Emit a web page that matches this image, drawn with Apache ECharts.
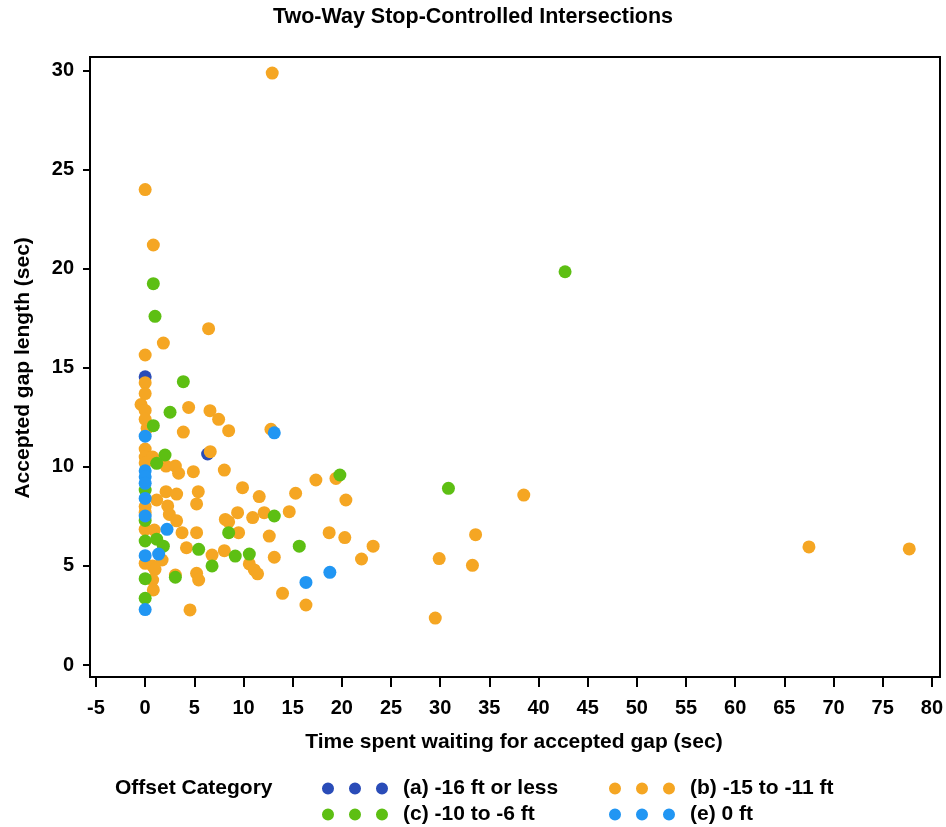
<!DOCTYPE html>
<html>
<head>
<meta charset="utf-8">
<script src="https://cdn.jsdelivr.net/npm/echarts@6/dist/echarts.min.js"></script>
<style>html,body{margin:0;padding:0;background:#fff}#c{width:946px;height:827px}</style>
</head>
<body>
<div id="c"></div>
<script>
const chartTitle = 'Two-Way Stop-Controlled Intersections';
const xTitle = 'Time spent waiting for accepted gap (sec)';
const yTitle = 'Accepted gap length (sec)';
const legendTitle = 'Offset Category';
const seriesNames = ['(a) -16 ft or less', '(b) -15 to -11 ft', '(c) -10 to -6 ft', '(e) 0 ft'];

const seriesA = [[0, 14.55], [6.35, 10.65]];
const seriesB = [
  [12.92, 29.88], [0, 24.0], [0.83, 21.2], [6.45, 16.98], [1.85, 16.25], [0, 15.65],
  [0, 14.25], [0, 13.7], [-0.42, 13.15], [0, 12.85], [0, 12.4], [4.42, 13.0],
  [6.59, 12.84], [7.47, 12.4], [8.49, 11.83], [12.79, 11.9], [0.2, 11.95], [3.88, 11.76],
  [0, 10.9], [6.62, 10.77], [0, 10.5], [0.76, 10.5], [0, 10.2], [2.12, 10.04],
  [3.07, 10.04], [3.4, 9.68], [4.9, 9.76], [8.05, 9.84], [2.12, 8.75], [3.2, 8.63],
  [5.4, 8.75], [9.9, 8.95], [11.6, 8.5], [15.3, 8.67], [17.36, 9.34], [19.4, 9.42],
  [20.41, 8.33], [1.17, 8.33], [2.29, 8.03], [5.23, 8.13], [0, 8.0], [0, 7.7],
  [2.46, 7.6], [3.2, 7.28], [9.4, 7.69], [8.15, 7.35], [8.49, 7.23], [10.93, 7.44],
  [12.1, 7.69], [14.65, 7.74], [0, 6.85], [0.93, 6.81], [3.75, 6.68], [5.23, 6.68],
  [9.5, 6.68], [12.62, 6.51], [18.71, 6.68], [20.3, 6.43], [23.18, 6.0], [22.0, 5.35],
  [4.2, 5.92], [8.05, 5.77], [13.13, 5.44], [6.8, 5.55], [10.59, 5.1], [11.1, 4.8],
  [11.43, 4.6], [0, 5.13], [0.76, 5.0], [1.0, 4.83], [1.72, 5.3], [3.07, 4.54],
  [5.23, 4.63], [5.44, 4.29], [0.76, 4.29], [0.83, 3.79], [13.97, 3.62], [4.56, 2.78],
  [16.35, 3.03], [38.5, 8.58], [29.9, 5.37], [33.6, 6.58], [33.28, 5.03], [29.5, 2.37],
  [67.5, 5.96], [77.7, 5.86]
];
const seriesC = [
  [0.83, 19.25], [1.0, 17.6], [3.88, 14.3], [2.53, 12.76], [0.83, 12.08], [2.02, 10.6],
  [1.17, 10.18], [0, 8.83], [13.13, 7.52], [0, 7.3], [8.49, 6.68], [0, 6.26],
  [1.17, 6.35], [1.85, 6.0], [5.44, 5.84], [9.16, 5.5], [10.59, 5.6], [6.8, 5.0],
  [3.07, 4.43], [0, 4.36], [0, 3.37], [15.67, 6.0], [19.8, 9.59], [30.84, 8.92],
  [42.7, 19.85]
];
const seriesE = [
  [13.13, 11.72], [0, 11.55], [0, 9.8], [0, 9.5], [0, 9.17], [0, 8.41], [0, 7.52],
  [2.22, 6.85], [0, 5.52], [1.37, 5.6], [0, 2.8], [16.35, 4.17], [18.78, 4.68]
];

const colors = ['#2a4cb8', '#f5a623', '#5dbf13', '#2196f3'];
const FONT = '"Liberation Sans", Arial, Helvetica, sans-serif';
const dots3 = 'path://M0,6a6,6 0 1,0 12,0a6,6 0 1,0 -12,0M27,6a6,6 0 1,0 12,0a6,6 0 1,0 -12,0M54,6a6,6 0 1,0 12,0a6,6 0 1,0 -12,0';

const chart = echarts.init(document.getElementById('c'), null, {renderer: 'canvas'});

function legendAt(name, left, top) {
  return {
    data: [{name: name, icon: dots3}],
    left: left, top: top, padding: 0,
    itemWidth: 66, itemHeight: 12,
    selectedMode: false,
    textStyle: {fontFamily: FONT, fontWeight: 'bold', fontSize: 21, color: '#000', padding: [0, 0, 0, 10]}
  };
}

const allData = [seriesA, seriesB, seriesC, seriesE];

const option = {
  backgroundColor: '#fff',
  animation: false,
  title: [
    {text: chartTitle, left: 'center', top: 6, padding: 0,
     textStyle: {fontFamily: FONT, fontWeight: 'bold', fontSize: 21.5, color: '#000'}},
    {text: legendTitle, left: 115, top: 778, padding: 0,
     textStyle: {fontFamily: FONT, fontWeight: 'bold', fontSize: 21, color: '#000'}}
  ],
  grid: {left: 96, right: 13.3, top: 70.7, bottom: 162, containLabel: false},
  xAxis: {
    type: 'value', min: -5, max: 80, interval: 5, offset: 12,
    axisLine: {show: false, onZero: false},
    axisTick: {show: true, length: 10, lineStyle: {color: '#000', width: 2}},
    axisLabel: {margin: 21, fontFamily: FONT, fontWeight: 'bold', fontSize: 20, color: '#000'},
    splitLine: {show: false},
    name: xTitle, nameLocation: 'middle', nameGap: 55,
    nameTextStyle: {fontFamily: FONT, fontWeight: 'bold', fontSize: 21, color: '#000'}
  },
  yAxis: {
    type: 'value', min: 0, max: 30, interval: 5, offset: 6,
    axisLine: {show: false, onZero: false},
    axisTick: {show: true, length: 7, lineStyle: {color: '#000', width: 2}},
    axisLabel: {margin: 16, fontFamily: FONT, fontWeight: 'bold', fontSize: 20, color: '#000'},
    splitLine: {show: false},
    name: yTitle, nameLocation: 'middle', nameGap: 56,
    nameTextStyle: {fontFamily: FONT, fontWeight: 'bold', fontSize: 21, color: '#000'}
  },
  legend: [
    legendAt(seriesNames[0], 322, 778),
    legendAt(seriesNames[1], 609, 778),
    legendAt(seriesNames[2], 322, 804),
    legendAt(seriesNames[3], 609, 804)
  ],
  graphic: [
    {type: 'rect', shape: {x: 90, y: 57, width: 850, height: 620},
     style: {fill: null, stroke: '#000', lineWidth: 2}, z: 100, silent: true}
  ],
  series: allData.map((d, i) => ({
    type: 'scatter', name: seriesNames[i], data: d,
    symbol: 'circle', symbolSize: 13,
    itemStyle: {color: colors[i], opacity: 1},
    emphasis: {disabled: true}
  }))
};
chart.setOption(option);
</script>
</body>
</html>
